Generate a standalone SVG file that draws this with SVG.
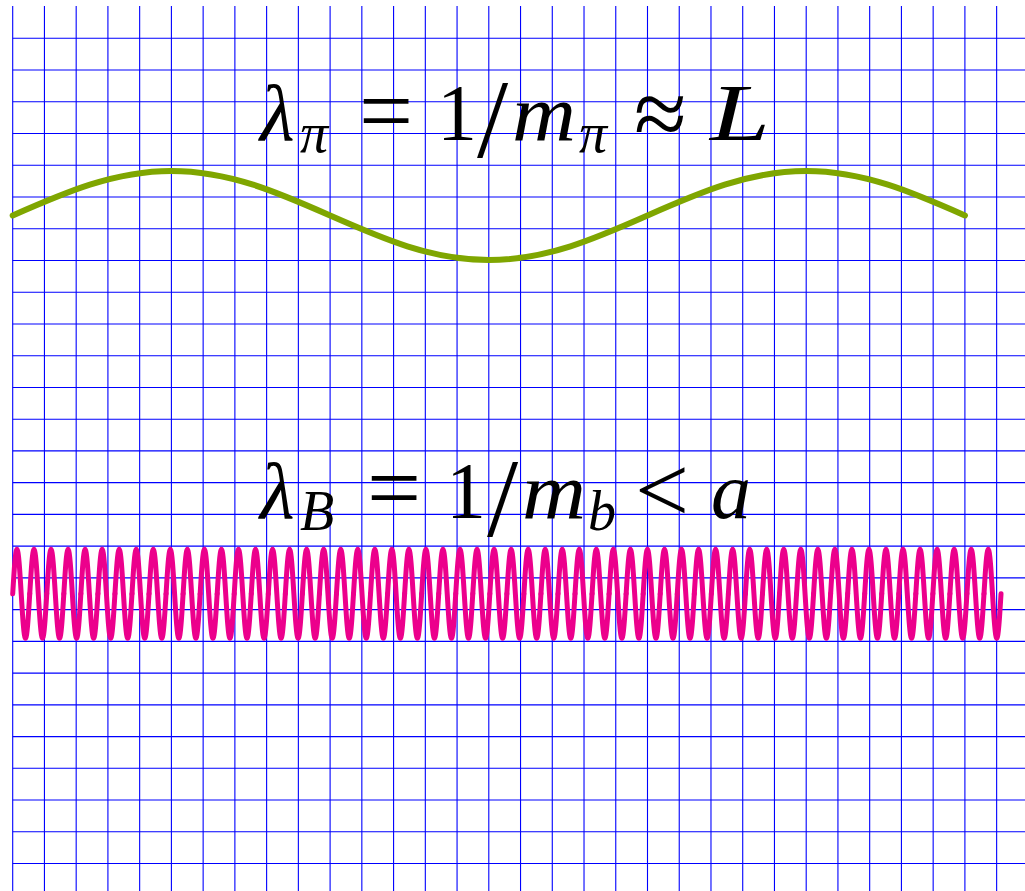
<svg xmlns="http://www.w3.org/2000/svg" xmlns:xlink="http://www.w3.org/1999/xlink" width="1025" height="891" viewBox="0 0 1025 891">
<style>
.grid{stroke:#0000ff;stroke-width:1.1;fill:none}
.m{font-family:"Liberation Serif","Times New Roman",serif;font-size:80px;fill:#000}
.i{font-style:italic}
.s{font-size:56px;font-style:italic}
.op{font-size:96px}
.sl{font-size:112px}
.wave{fill:none;stroke-linecap:round;stroke-linejoin:round}
</style>
<defs>
<path id="p1" d="M12.7 593.8c1.389 -22.8 2.713 -44.5 4.26 -44.5c1.547 0 2.871 21.7 4.26 44.5c1.389 22.8 2.713 44.5 4.26 44.5c1.547 0 2.871 -21.7 4.26 -44.5"/>
<g id="p2"><use xlink:href="#p1"/><use xlink:href="#p1" x="17.04"/></g>
<g id="p4"><use xlink:href="#p2"/><use xlink:href="#p2" x="34.08"/></g>
<g id="p8"><use xlink:href="#p4"/><use xlink:href="#p4" x="68.16"/></g>
<g id="p16"><use xlink:href="#p8"/><use xlink:href="#p8" x="136.32"/></g>
<g id="p32"><use xlink:href="#p16"/><use xlink:href="#p16" x="272.64"/></g>
</defs>
<rect width="1025" height="891" fill="#fff"/>
<g id="grid" class="grid">
<path d="M12.7 6V891M44.44 6V891M76.18 6V891M107.92 6V891M139.66 6V891M171.4 6V891M203.14 6V891M234.88 6V891M266.62 6V891M298.36 6V891M330.1 6V891M361.84 6V891M393.58 6V891M425.32 6V891M457.06 6V891M488.8 6V891M520.54 6V891M552.28 6V891M584.02 6V891M615.76 6V891M647.5 6V891M679.24 6V891M710.98 6V891M742.72 6V891M774.46 6V891M806.2 6V891M837.94 6V891M869.68 6V891M901.42 6V891M933.16 6V891M964.9 6V891M996.64 6V891"/>
<path d="M12.7 38.3H1025M12.7 70.04H1025M12.7 101.78H1025M12.7 133.52H1025M12.7 165.26H1025M12.7 197H1025M12.7 228.74H1025M12.7 260.48H1025M12.7 292.22H1025M12.7 323.96H1025M12.7 355.7H1025M12.7 387.44H1025M12.7 419.18H1025M12.7 450.92H1025M12.7 482.66H1025M12.7 514.4H1025M12.7 546.14H1025M12.7 577.88H1025M12.7 609.62H1025M12.7 641.36H1025M12.7 673.1H1025M12.7 704.84H1025M12.7 736.58H1025M12.7 768.32H1025M12.7 800.06H1025M12.7 831.8H1025M12.7 863.54H1025"/>
</g>
<g id="pion-wave">
<path class="wave" stroke="#7fa600" stroke-width="6" d="M12.7 215.5C64.55 192.7 113.95 171 171.4 171C229.15 171 278.55 192.7 330.1 215.5C381.95 238.3 431.35 260 488.8 260C546.55 260 595.95 238.3 647.5 215.5C699.35 192.7 748.75 171 806.2 171C863.95 171 913.35 192.7 964.9 215.5"/>
</g>
<g id="baryon-wave" class="wave" stroke="#ec008c" stroke-width="5">
<use xlink:href="#p32"/>
<use xlink:href="#p16" x="545.28"/>
<use xlink:href="#p8" x="817.92"/>
<use xlink:href="#p2" x="954.24"/>
</g>
<g id="label-pion" class="m">
<text class="i" x="260" y="140">λ</text>
<text class="s" x="300" y="152">π</text>
<text class="op" x="359" y="143">=</text>
<text x="437" y="140">1</text>
<text class="sl" x="477" y="157">/</text>
<text class="i" x="512" y="140" textLength="64" lengthAdjust="spacingAndGlyphs">m</text>
<text class="s" x="579" y="152">π</text>
<text class="op" x="634" y="146">≈</text>
<text class="i" x="710" y="140" style="font-size:80px" textLength="60" lengthAdjust="spacingAndGlyphs">L</text>
</g>
<g id="label-baryon" class="m">
<text class="i" x="260" y="518">λ</text>
<text class="s" x="300" y="530">B</text>
<text class="op" x="367" y="520">=</text>
<text x="446" y="518">1</text>
<text class="sl" x="487" y="536">/</text>
<text class="i" x="522" y="518" textLength="64" lengthAdjust="spacingAndGlyphs">m</text>
<text class="s" x="588" y="530">b</text>
<text class="op" x="635" y="522">&lt;</text>
<text class="i" x="711" y="518">a</text>
</g>
</svg>
